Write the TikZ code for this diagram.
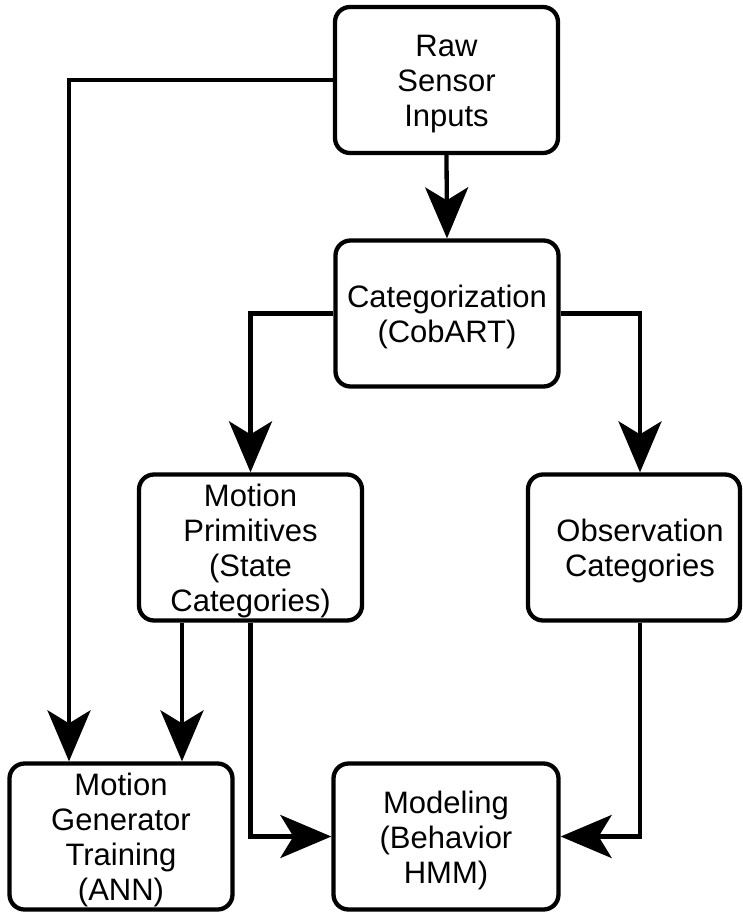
\documentclass[tikz,border=0pt]{standalone}
\usepackage{fontspec}
\setmainfont{Liberation Sans}
\usetikzlibrary{arrows.meta,calc}
\newcommand{\tpstrut}{\rule{0pt}{30pt}}
\begin{document}
\begin{tikzpicture}[x=1pt,y=-1pt,
  txt/.style={font=\fontsize{31}{35}\selectfont},
  box/.style={draw,line width=4.3pt,rounded corners=15pt,minimum width=223pt,minimum height=146pt,
    inner sep=0pt,align=center,txt},
  conn/.style={line width=4.3pt,-{Stealth[length=51pt,width=43pt,inset=13pt]}}]
\useasboundingbox (0,0) rectangle (742,913);
\node[box] (raw) at (446.5,80) {\tpstrut Raw\\Sensor\\Inputs};
\node[box] (cat) at (447,313.5) {\tpstrut Categorization\\(CobART)};
\node[box] (mp) at (250.5,547.5) {\tpstrut Motion\\Primitives\\(State\\Categories)};
\node[box,minimum width=212pt,label={[align=center,xshift=6pt,yshift=-3pt,txt]center:Observation\\Categories}] (obs) at (634,547.5) {};
\node[box] (mg) at (121,836.5) {\tpstrut Motion\\Generator\\Training\\(ANN)};
\node[box,minimum width=225pt] (mod) at (446,836.5) {\tpstrut Modeling\\(Behavior\\HMM)};
\draw[conn] (raw.west) -| ([xshift=-52pt]mg.north);
\draw[conn] (raw.south) -- (cat.north);
\draw[conn] (cat.west) -| (mp.north);
\draw[conn] (cat.east) -| ([xshift=6pt]obs.north);
\draw[conn] ([xshift=-68.5pt]mp.south) -- ([xshift=-68.5pt]mp.south |- mg.north);
\draw[conn] (mp.south) |- (mod.west);
\draw[conn] ([xshift=6pt]obs.south) |- (mod.east);
\end{tikzpicture}
\end{document}
